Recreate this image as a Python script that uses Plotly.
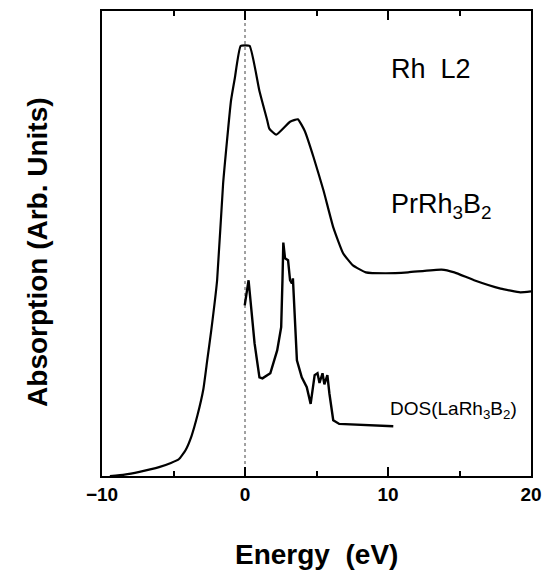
import plotly.graph_objects as go

# Rh L2 absorption edge of PrRh3B2 (energy in eV, absorption in arbitrary units)
abs_energy = [-9.45, -8.42, -7.38, -6.01, -5.18, -4.63, -4.15, -3.74, -3.32, -2.91,
              -2.64, -2.36, -1.95, -1.53, -0.98, -0.71, -0.30, 0.32, 1.01, 1.56,
              1.70, 2.18, 3.15, 3.70, 4.18, 4.80, 5.49, 6.18, 6.86, 7.55,
              8.45, 9.82, 11.41, 13.74, 14.64, 16.02, 17.88, 19.25, 20.0]
abs_value = [0.0, 0.3, 0.9, 1.9, 2.8, 3.6, 5.6, 8.6, 13.1, 18.7,
             24.9, 31.3, 42.1, 62.9, 80.7, 85.6, 92.5, 92.5, 82.8, 76.4,
             74.7, 73.4, 76.2, 76.7, 74.2, 68.5, 61.4, 53.4, 47.9, 45.3,
             43.8, 43.6, 43.8, 44.4, 43.8, 42.1, 40.3, 39.5, 39.7]

# Density of states of LaRh3B2 (shifted, arbitrary units)
dos_energy = [-0.02, 0.25, 0.67, 1.01, 1.22, 1.77, 2.25, 2.53, 2.62, 2.68,
              2.80, 3.01, 3.15, 3.28, 3.35, 3.42, 3.56, 3.63, 3.97, 4.32,
              4.59, 4.87, 5.07, 5.21, 5.42, 5.55, 5.76, 5.90, 6.17, 6.59, 10.37]
dos_value = [36.7, 42.1, 28.5, 21.2, 21.0, 22.1, 27.0, 32.0, 42.1, 50.2,
             46.8, 46.4, 42.1, 41.4, 42.5, 38.4, 31.3, 24.9, 21.2, 19.1,
             15.5, 21.7, 22.1, 20.0, 22.1, 19.7, 21.7, 17.8, 12.0, 11.2, 10.7]

x_ticks = [-10, 0, 10, 20]
x_range = [-10, 20]
y_range = [0, 100]

fig = go.Figure()
fig.add_trace(go.Scatter(x=[0, 0], y=y_range, mode="lines",
                         line=dict(color="#444", width=1, dash="dot"),
                         showlegend=False, hoverinfo="skip"))
fig.add_trace(go.Scatter(x=abs_energy, y=abs_value, mode="lines",
                         line=dict(color="black", width=2.2, shape="spline", smoothing=0.4),
                         showlegend=False))
fig.add_trace(go.Scatter(x=dos_energy, y=dos_value, mode="lines",
                         line=dict(color="black", width=2.4),
                         showlegend=False))

ann_font = dict(family="Liberation Sans, Arial, sans-serif", size=27, color="black")
fig.add_annotation(x=10.1, y=87.6, xref="x", yref="y", text="Rh  L2",
                   showarrow=False, xanchor="left", yanchor="middle", font=ann_font)
fig.add_annotation(x=10.1, y=58, xref="x", yref="y", text="PrRh<sub>3</sub>B<sub>2</sub>",
                   showarrow=False, xanchor="left", yanchor="middle", font=ann_font)
fig.add_annotation(x=10.0, y=14.2, xref="x", yref="y", text="DOS(LaRh<sub>3</sub>B<sub>2</sub>)",
                   showarrow=False, xanchor="left", yanchor="middle",
                   font=dict(family="Liberation Sans, Arial, sans-serif", size=19, color="black"))

title_font = dict(family="Liberation Sans, Arial, sans-serif", size=28, color="black", weight="bold")
fig.add_annotation(x=0.5, y=-0.169, xref="paper", yref="paper", text="Energy  (eV)",
                   showarrow=False, xanchor="center", yanchor="middle", font=title_font)
fig.add_annotation(x=-0.149, y=0.482, xref="paper", yref="paper", text="Absorption (Arb. Units)",
                   showarrow=False, xanchor="center", yanchor="middle", textangle=-90, font=title_font)

fig.update_xaxes(range=x_range, tickvals=x_ticks, ticks="inside", ticklen=9, tickwidth=2,
                 tickcolor="black", mirror="allticks", showline=True, linecolor="black",
                 linewidth=2, showgrid=False, zeroline=False,
                 minor=dict(dtick=5, tick0=-10, ticks="inside", ticklen=5, tickwidth=2,
                            tickcolor="black", showgrid=False),
                 tickfont=dict(family="Liberation Sans, Arial, sans-serif", size=19,
                               color="black", weight="bold"))
fig.update_yaxes(range=y_range, showticklabels=False, ticks="", showline=True,
                 linecolor="black", linewidth=2, mirror=True, showgrid=False, zeroline=False)

fig.update_layout(width=551, height=578, margin=dict(l=102, r=13, t=9, b=102),
                  plot_bgcolor="white", paper_bgcolor="white", showlegend=False)

fig.write_html("out.html")
